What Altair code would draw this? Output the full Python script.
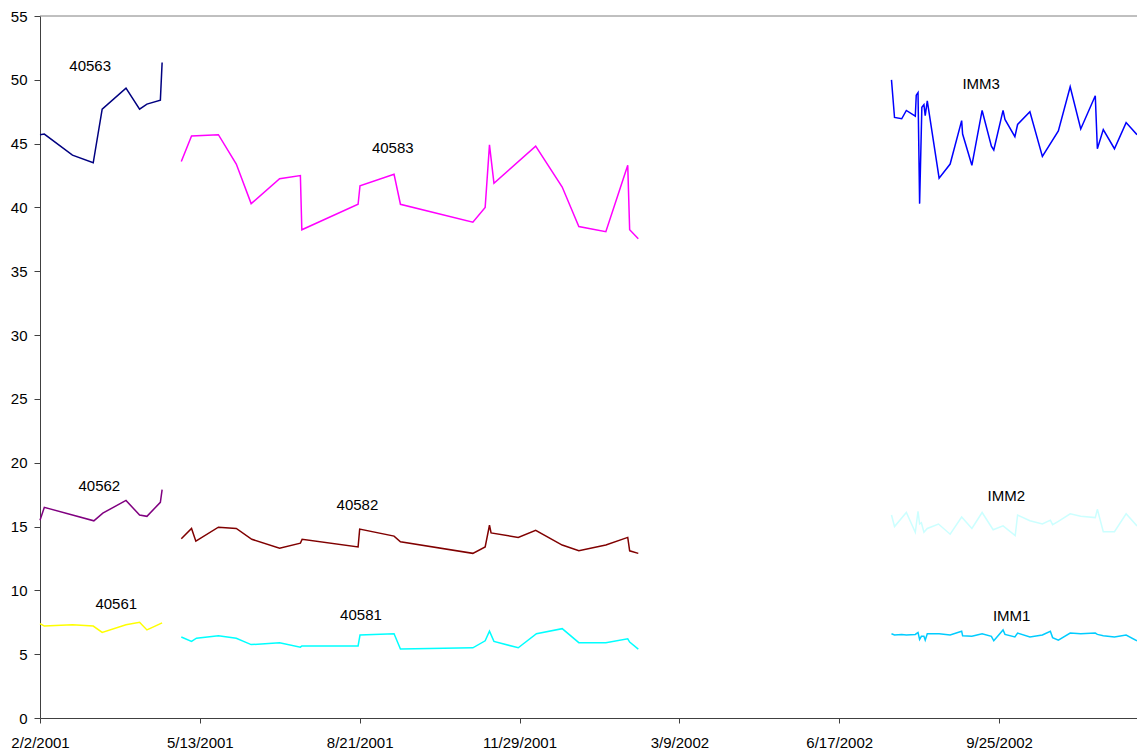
import altair as alt
import pandas as pd

BASE = pd.Timestamp("2001-02-02")

# ---- series: days since 2/2/2001 and values ----
s40563_d = [0, 2.7, 20.3, 33.3, 38.9, 53.8, 62.3, 66.9, 75.3, 76.4]
s40563_v = [45.7, 45.75, 44.1, 43.5, 47.7, 49.35, 47.7, 48.1, 48.4, 51.35]

s40562_d = [0, 2.7, 33.7, 39.3, 53.8, 62.3, 66.9, 75.3, 76.4]
s40562_v = [15.5, 16.5, 15.45, 16.05, 17.05, 15.9, 15.8, 16.9, 17.9]

s40561_d = [0, 2.7, 20.3, 33.3, 38.9, 53.8, 62.3, 66.9, 76.4]
s40561_v = [7.4, 7.2, 7.3, 7.2, 6.7, 7.3, 7.5, 6.9, 7.45]

s40583_d = [88.4, 94.8, 111.6, 122.8, 132.1, 149.9, 162.9, 163.8, 199.0, 200.2, 221.5, 225.5,
            270.8, 278.5, 281.2, 284.0, 310.1, 326.7, 337.1, 354.0, 367.7, 368.9, 374.3]
s40583_v = [43.6, 45.6, 45.7, 43.4, 40.3, 42.25, 42.5, 38.25, 40.25, 41.7, 42.6, 40.25,
            38.85, 40.0, 44.9, 41.9, 44.8, 41.6, 38.5, 38.1, 43.3, 38.25, 37.55]

s40582_d = [88.4, 94.8, 97.5, 111.6, 122.8, 132.5, 149.9, 162.9, 164.0, 199.0, 200.0, 221.5, 225.5,
            270.8, 278.5, 281.2, 282.2, 299.2, 310.1, 326.7, 337.1, 354.0, 367.7, 368.9, 374.3]
s40582_v = [14.05, 14.85, 13.85, 14.95, 14.85, 14.0, 13.3, 13.7, 14.0, 13.4, 14.8, 14.25, 13.8,
            12.9, 13.4, 15.1, 14.5, 14.15, 14.7, 13.55, 13.1, 13.55, 14.15, 13.1, 12.9]

s40581_d = [88.4, 94.8, 97.9, 111.6, 122.8, 132.1, 149.9, 162.9, 163.8, 199.0, 200.2, 221.5, 225.5,
            270.8, 278.5, 281.2, 284.0, 299.2, 310.6, 326.7, 337.1, 354.0, 367.7, 368.9, 374.3]
s40581_v = [6.35, 6.0, 6.25, 6.45, 6.25, 5.75, 5.9, 5.55, 5.65, 5.65, 6.5, 6.6, 5.4,
            5.5, 6.05, 6.8, 6.0, 5.5, 6.6, 7.0, 5.9, 5.9, 6.2, 5.95, 5.4]

imm3_d = [532.7, 534.6, 539.1, 542.0, 547.6, 548.2, 549.3, 550.3, 551.7, 553.0, 553.8, 555.1,
          562.5, 569.4, 576.6, 577.2, 583.0, 589.4, 595.2, 596.7, 602.5, 603.7, 609.9, 611.6,
          619.3, 627.1, 637.1, 644.5, 651.1, 660.2, 661.5, 665.2, 672.2, 679.5, 686.3]
imm3_v = [50.0, 47.05, 46.95, 47.6, 47.15, 48.8, 49.0, 40.3, 47.85, 48.05, 47.2, 48.35,
          42.3, 43.4, 46.8, 45.75, 43.3, 47.6, 44.8, 44.5, 47.6, 46.9, 45.55, 46.5,
          47.5, 44.0, 46.0, 49.45, 46.15, 48.75, 44.6, 46.1, 44.6, 46.65, 45.7]

imm2_d = [532.7, 534.6, 542.0, 547.6, 549.3, 550.3, 551.4, 553.0, 555.1, 562.1, 569.4, 576.6,
          583.0, 589.4, 596.3, 602.5, 610.1, 611.6, 619.3, 627.1, 632.1, 633.5, 637.1, 644.5,
          651.1, 660.2, 661.5, 665.2, 672.2, 679.5, 686.3]
imm2_v = [15.9, 15.0, 16.1, 14.55, 16.2, 15.2, 15.3, 14.55, 14.85, 15.2, 14.4, 15.75,
          14.85, 16.1, 14.75, 15.05, 14.3, 15.9, 15.45, 15.2, 15.5, 15.15, 15.4, 16.0,
          15.8, 15.7, 16.35, 14.6, 14.6, 16.0, 15.05]

imm1_d = [532.7, 534.6, 539.1, 542.0, 547.6, 549.3, 550.3, 551.4, 553.0, 553.8, 555.1, 562.5,
          569.4, 576.6, 577.2, 583.0, 589.4, 595.2, 596.7, 602.5, 603.7, 609.9, 611.6, 619.3,
          627.1, 632.1, 633.5, 637.1, 644.5, 651.1, 660.2, 661.5, 665.2, 672.2, 679.5, 686.3]
imm1_v = [6.6, 6.5, 6.55, 6.5, 6.55, 6.7, 6.15, 6.4, 6.4, 6.1, 6.6, 6.6,
          6.5, 6.8, 6.45, 6.4, 6.6, 6.4, 6.05, 6.9, 6.55, 6.35, 6.65, 6.35,
          6.5, 6.8, 6.3, 6.1, 6.65, 6.6, 6.65, 6.55, 6.45, 6.35, 6.5, 6.05]

series_names = ["40563", "40562", "40561", "40583", "40582", "40581", "IMM3", "IMM2", "IMM1"]
series_colors = ["#000080", "#800080", "#FFFF00", "#FF00FF", "#800000", "#00FFFF",
                 "#0000FF", "#CCFFFF", "#00CCFF"]
series_days = [s40563_d, s40562_d, s40561_d, s40583_d, s40582_d, s40581_d, imm3_d, imm2_d, imm1_d]
series_vals = [s40563_v, s40562_v, s40561_v, s40583_v, s40582_v, s40581_v, imm3_v, imm2_v, imm1_v]

# ---- in-chart labels (day, value) ----
label_text = ["40563", "40583", "IMM3", "40562", "40561", "40582", "40581", "IMM2", "IMM1"]
label_day = [31.4, 220.7, 588.8, 37.1, 47.7, 198.6, 200.8, 604.5, 607.9]
label_val = [51.05, 44.65, 49.7, 18.14, 8.94, 16.68, 8.04, 17.42, 7.96]

tick_days = [0, 100, 200, 300, 400, 500, 600]
y_ticks = list(range(0, 56, 5))

rows = []
for name, ds, vs in zip(series_names, series_days, series_vals):
    for i, (d, v) in enumerate(zip(ds, vs)):
        rows.append({"series": name, "date": BASE + pd.to_timedelta(d, unit="D"),
                     "value": v, "i": i})
df = pd.DataFrame(rows)

lab = pd.DataFrame({
    "label": label_text,
    "date": [BASE + pd.to_timedelta(d, unit="D") for d in label_day],
    "value": label_val,
})


def dt(ts):
    return alt.DateTime(year=ts.year, month=ts.month, date=ts.day,
                        hours=ts.hour, minutes=ts.minute)


x_end = BASE + pd.to_timedelta(686.3, unit="D")
tick_vals = [dt(BASE + pd.to_timedelta(d, unit="D")) for d in tick_days]

FONT = "Liberation Sans"

x_enc = alt.X("date:T",
              scale=alt.Scale(domain=[dt(BASE), dt(x_end)]),
              axis=alt.Axis(values=tick_vals, format="%-m/%-d/%Y", title=None, grid=False,
                            labelFont=FONT, labelFontSize=15, labelColor="#000",
                            tickSize=5, labelPadding=12, domainColor="#404040",
                            tickColor="#404040", labelOverlap=False, labelFlush=False))
y_enc = alt.Y("value:Q",
              scale=alt.Scale(domain=[0, 55], nice=False, zero=True),
              axis=alt.Axis(values=y_ticks, title=None, grid=False,
                            labelFont=FONT, labelFontSize=15, labelColor="#000",
                            tickSize=6, labelPadding=7, domainColor="#404040",
                            tickColor="#404040"))

lines = alt.Chart(df).mark_line(strokeWidth=1.5).encode(
    x=x_enc,
    y=y_enc,
    color=alt.Color("series:N", scale=alt.Scale(domain=series_names, range=series_colors),
                    legend=None),
    order="i:Q",
)

top = alt.Chart(pd.DataFrame({"v": [55]})).mark_rule(color="#808080", strokeWidth=1).encode(
    y=alt.Y("v:Q"))

texts = alt.Chart(lab).mark_text(font=FONT, fontSize=15, color="#000").encode(
    x="date:T", y="value:Q", text="label:N")

chart = alt.layer(top, lines, texts).properties(
    width=1097, height=702,
    autosize=alt.AutoSizeParams(type="none"),
    padding={"left": 32, "top": 8, "right": 0, "bottom": 31},
).configure_view(stroke=None)

chart.save("out.html", embed_options={"renderer": "svg", "actions": False})
